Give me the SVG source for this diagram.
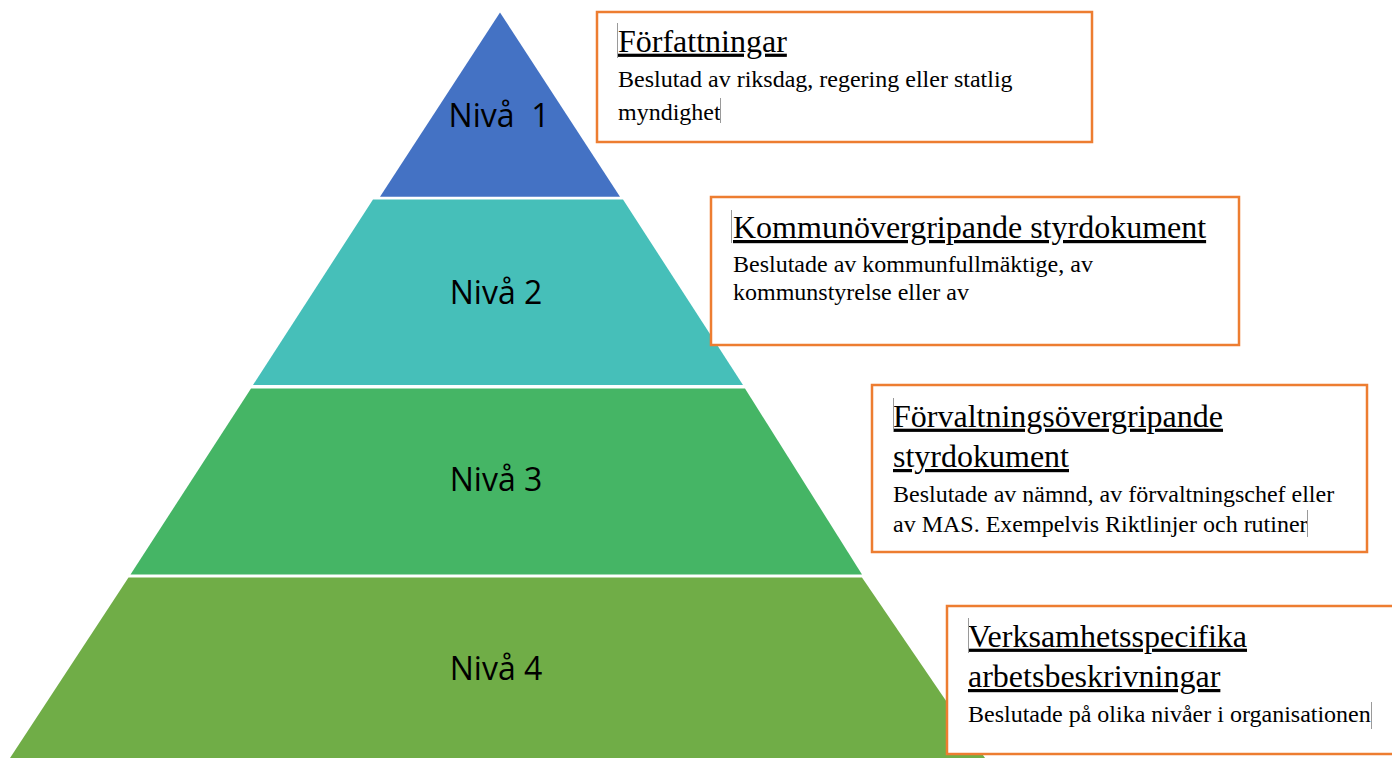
<svg xmlns="http://www.w3.org/2000/svg" width="1392" height="758" viewBox="0 0 1392 758">
  <style>
    .lvl { font-family: "Open Sans", "Noto Sans", sans-serif; font-size: 32px; fill: #000; text-anchor: middle; white-space: pre; }
    .box { fill: #fff; stroke: #ED7D31; stroke-width: 2.5; }
    .title { font-family: "Liberation Serif", "Times New Roman", serif; font-size: 32px; fill: #000; text-decoration: underline; }
    .body { font-family: "Liberation Serif", "Times New Roman", serif; font-size: 24px; fill: #000; }
    .mark { stroke: #9a9a9a; stroke-width: 1; fill: none; }
  </style>
  <rect width="1392" height="758" fill="#fff"/>
  <g id="level1">
    <polygon points="500,12.5 620,196.8 380,196.8" fill="#4472C4"/>
    <text class="lvl" x="499" y="127" xml:space="preserve">Nivå  1</text>
  </g>
  <g id="level2">
    <polygon points="373,199.5 623,199.5 743,385 253,385" fill="#46BFB9"/>
    <text class="lvl" x="496" y="303.5">Nivå 2</text>
  </g>
  <g id="level3">
    <polygon points="251,388.5 745,388.5 862,574.5 130.5,574.5" fill="#45B565"/>
    <text class="lvl" x="496" y="491">Nivå 3</text>
  </g>
  <g id="level4">
    <polygon points="128.5,577.5 862,577.5 985,758 10,758" fill="#70AD47"/>
    <text class="lvl" x="496" y="680">Nivå 4</text>
  </g>
  <g id="box1">
    <rect class="box" x="597" y="12" width="495" height="130"/>
    <text class="title" x="618" y="51.7">Författningar</text>
    <text class="body" x="618" y="86.7">Beslutad av riksdag, regering eller statlig</text>
    <text class="body" x="618" y="120">myndighet</text>
    <path class="mark" d="M617.5,23 V58 M720.5,98 V123"/>
  </g>
  <g id="box2">
    <rect class="box" x="711" y="197" width="528" height="148"/>
    <text class="title" x="733" y="238">Kommunövergripande styrdokument</text>
    <text class="body" x="733" y="272">Beslutade av kommunfullmäktige, av</text>
    <text class="body" x="733" y="300">kommunstyrelse eller av</text>
    <path class="mark" d="M731.5,210 V243"/>
  </g>
  <g id="box3">
    <rect class="box" x="872" y="385" width="495" height="167"/>
    <text class="title" x="893" y="426.7">Förvaltningsövergripande</text>
    <text class="title" x="893" y="467">styrdokument</text>
    <text class="body" x="893" y="501.7">Beslutade av nämnd, av förvaltningschef eller</text>
    <text class="body" x="893" y="531.7">av MAS. Exempelvis Riktlinjer och rutiner</text>
    <path class="mark" d="M893.5,398 V432 M1307.5,510 V537"/>
  </g>
  <g id="box4">
    <rect class="box" x="947" y="606" width="460" height="148"/>
    <text class="title" x="968" y="646.7">Verksamhetsspecifika</text>
    <text class="title" x="968" y="687">arbetsbeskrivningar</text>
    <text class="body" x="968" y="721.7">Beslutade på olika nivåer i organisationen</text>
    <path class="mark" d="M968.5,618 V653 M1371.5,702 V729"/>
  </g>
  <g id="connectors"></g>
</svg>
